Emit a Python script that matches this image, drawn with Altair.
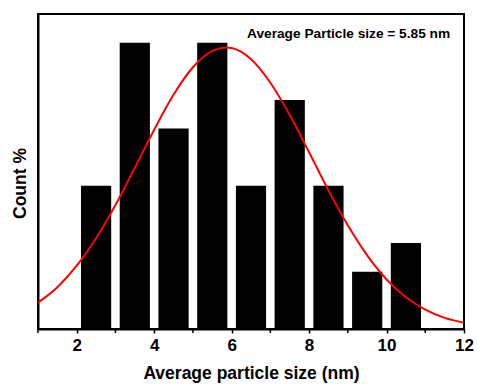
import altair as alt
import pandas as pd

# Histogram bins (centers) and counts
centers = [2.5, 3.5, 4.5, 5.5, 6.5, 7.5, 8.5, 9.5, 10.5]
counts = [5, 10, 7, 10, 5, 8, 5, 2, 3]

# Fitted curve
curve_x = [1, 1.5, 2, 2.5, 3, 3.5, 4, 4.5, 5, 5.5, 5.85, 6, 6.5, 7, 7.5, 8, 8.5, 9, 9.5, 10, 10.5, 11, 11.5, 12]
curve_y = [0.92, 1.46, 2.21, 3.17, 4.33, 5.63, 6.96, 8.18, 9.14, 9.71, 9.83, 9.81, 9.42, 8.60, 7.47, 6.17, 4.84, 3.62, 2.57, 1.73, 1.11, 0.68, 0.39, 0.22]

# Axis ticks
major_ticks = [2, 4, 6, 8, 10, 12]
minor_ticks = [1, 3, 5, 7, 9, 11]

label_text = ["Average Particle size = 5.85 nm"]
label_x = [9.02]
label_y = [10.3]

FONT = "Liberation Sans"

bars_df = pd.DataFrame({"c": centers, "n": counts})
curve_df = pd.DataFrame({"x": curve_x, "y": curve_y})
label_df = pd.DataFrame({"t": label_text, "x": label_x, "y": label_y})
minor_df = pd.DataFrame({"m": minor_ticks})

xscale = alt.Scale(domain=[1, 12], nice=False, zero=False)
yscale = alt.Scale(domain=[0, 11], nice=False)

xaxis = alt.Axis(
    title="Average particle size (nm)",
    values=major_ticks, format="d",
    labelOverlap=False, labelFlush=False,
    grid=False, tickSize=4, tickColor="black", tickWidth=1.5,
    domainColor="black", domainWidth=2,
    labelFont=FONT, labelFontSize=17, labelFontWeight="bold", labelColor="black",
    labelPadding=4,
    titleFont=FONT, titleFontSize=17.5, titleFontWeight="bold", titleColor="black",
    titlePadding=11,
)
yaxis = alt.Axis(
    title="Count %", labels=False, ticks=False, grid=False,
    domainColor="black", domainWidth=2,
    titleFont=FONT, titleFontSize=17.5, titleFontWeight="bold", titleColor="black",
    titlePadding=9, titleY=169,
)

bars = alt.Chart(bars_df).transform_calculate(
    x0="datum.c - 0.39", x1="datum.c + 0.39"
).mark_bar(color="black").encode(
    x=alt.X("x0:Q", scale=xscale, axis=xaxis),
    x2="x1:Q",
    y=alt.Y("n:Q", scale=yscale, axis=yaxis),
    y2=alt.datum(0),
)

line = alt.Chart(curve_df).mark_line(color="#ff0000", strokeWidth=2, interpolate="monotone").encode(
    x=alt.X("x:Q", scale=xscale, axis=xaxis),
    y=alt.Y("y:Q", scale=yscale, axis=yaxis),
)

minor = alt.Chart(minor_df).mark_rule(color="black", strokeWidth=1.5, clip=False).encode(
    x=alt.X("m:Q", scale=xscale, axis=xaxis),
    y=alt.value(315),
    y2=alt.value(319),
)

text = alt.Chart(label_df).mark_text(
    font=FONT, fontSize=13.7, fontWeight="bold", color="black", align="center", baseline="middle"
).encode(
    x=alt.X("x:Q", scale=xscale, axis=xaxis),
    y=alt.Y("y:Q", scale=yscale, axis=yaxis),
    text="t:N",
)

chart = alt.layer(bars, line, minor, text).properties(
    width=426, height=315,
    autosize=alt.AutoSizeParams(type="none"),
    padding={"left": 38, "top": 14, "right": 13, "bottom": 58},
    background="white",
).configure_view(stroke="black", strokeWidth=2)

chart.save("out.html", embed_options={"renderer": "svg", "actions": False})
